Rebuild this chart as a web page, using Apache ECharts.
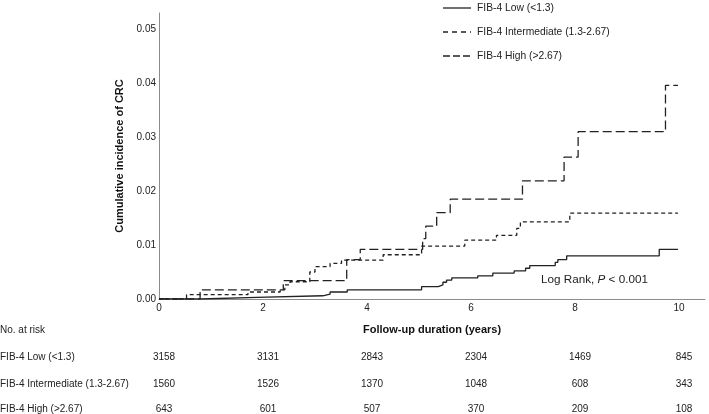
<!DOCTYPE html>
<html>
<head>
<meta charset="utf-8">
<script src="https://cdn.jsdelivr.net/npm/echarts@6/dist/echarts.min.js"></script>
<style>html,body{margin:0;padding:0;background:#fff}#c{width:709px;height:414px}</style>
</head>
<body>
<div id="c"></div>
<script>
// ---- data ----
const seriesNames = ['FIB-4 Low (<1.3)', 'FIB-4 Intermediate (1.3-2.67)', 'FIB-4 High (>2.67)'];
const lowT = [0, 0.79, 1.88, 3.15, 3.29, 3.62, 5.05, 5.37, 5.46, 5.53, 5.63, 6.13, 6.42, 6.83, 7.05, 7.13, 7.62, 7.67, 7.84, 9.62, 9.98];
const lowV = [0, 0.0003, 0.0006, 0.0009, 0.0013, 0.0017, 0.0023, 0.0026, 0.0031, 0.0035, 0.0039, 0.0043, 0.0048, 0.0052, 0.0057, 0.0062, 0.0068, 0.0073, 0.0080, 0.0092, 0.0092];
const midT = [0, 0.53, 1.71, 2.33, 2.42, 2.52, 2.90, 3.00, 3.29, 3.51, 4.31, 5.05, 5.88, 6.49, 6.88, 6.95, 7.90, 9.98];
const midV = [0, 0.0008, 0.0013, 0.0017, 0.0026, 0.0032, 0.0050, 0.0060, 0.0066, 0.0072, 0.0082, 0.0098, 0.0109, 0.0118, 0.0131, 0.0143, 0.0159, 0.0159];
const highT = [0, 0.79, 2.39, 3.61, 3.87, 5.07, 5.13, 5.34, 5.60, 6.99, 7.79, 8.06, 9.74, 9.98];
const highV = [0, 0.0017, 0.0034, 0.0073, 0.0092, 0.0112, 0.0135, 0.0160, 0.0185, 0.0219, 0.0263, 0.0310, 0.0396, 0.0396];
const riskTimes = [0, 2, 4, 6, 8, 10];
const riskLow = [3158, 3131, 2843, 2304, 1469, 845];
const riskMid = [1560, 1526, 1370, 1048, 608, 343];
const riskHigh = [643, 601, 507, 370, 209, 108];

const font = 'Arial, "Liberation Sans", sans-serif';
const pair = (t, v) => t.map((x, i) => [x, v[i]]);
const chart = echarts.init(document.getElementById('c'), null, {renderer: 'canvas'});
const lineColor = '#222';
const dashes = ['solid', [4, 3], [9, 4]];
const legendDashes = [null, [5, 4], [7, 3]];
chart.setOption({
  animation: false,
  textStyle: {fontFamily: font},
  grid: {left: 159, right: 4, top: 13, bottom: 115, containLabel: false},
  xAxis: {
    type: 'value', min: 0, max: 10.5, interval: 2,
    name: 'Follow-up duration (years)', nameLocation: 'middle', nameGap: 25,
    nameTextStyle: {fontSize: 11, fontWeight: 'bold', color: '#111', fontFamily: font},
    axisLine: {lineStyle: {color: '#8c8c8c', width: 1}},
    axisTick: {show: false}, splitLine: {show: false},
    axisLabel: {fontSize: 10, color: '#222', margin: 4,
      formatter: v => (Math.abs(v % 2) < 1e-9 ? String(v) : '')}
  },
  yAxis: {
    type: 'value', min: 0, max: 0.053, interval: 0.01,
    name: 'Cumulative incidence of CRC', nameLocation: 'middle', nameGap: 24, nameRotate: 90,
    nameTextStyle: {fontSize: 11, fontWeight: 'bold', color: '#111', fontFamily: font},
    axisLine: {show: true, lineStyle: {color: '#8c8c8c', width: 1}},
    axisTick: {show: false}, splitLine: {show: false},
    axisLabel: {fontSize: 10, color: '#222', margin: 3,
      formatter: v => { const k = Math.round(v * 100); return Math.abs(v * 100 - k) < 1e-6 ? (k / 100).toFixed(2) : ''; }}
  },
  series: [
    {name: seriesNames[0], type: 'line', step: 'end', symbol: 'none', data: pair(lowT, lowV),
     lineStyle: {color: lineColor, width: 1.3, type: dashes[0]}},
    {name: seriesNames[1], type: 'line', step: 'end', symbol: 'none', data: pair(midT, midV),
     lineStyle: {color: lineColor, width: 1.3, type: dashes[1]}},
    {name: seriesNames[2], type: 'line', step: 'end', symbol: 'none', data: pair(highT, highV),
     lineStyle: {color: lineColor, width: 1.3, type: dashes[2]}}
  ]
});

const elements = [];
const txt = (x, y, s, align, size) => ({type: 'text', x: x, y: y, silent: true,
  style: {text: s, fill: '#222', font: (size || 10) + 'px ' + font, textAlign: align || 'left', textVerticalAlign: 'middle'}});
// legend (drawn manually to keep dash patterns without symbols)
const legendY = [8, 32, 56];
seriesNames.forEach((n, i) => {
  elements.push({type: 'line', silent: true,
    shape: {x1: 443, y1: legendY[i], x2: 471, y2: legendY[i]},
    style: {stroke: lineColor, lineWidth: 1.3, lineDash: legendDashes[i]}});
  elements.push(txt(477, legendY[i], n, 'left', 10.3));
});
elements.push(txt(0, 330, 'No. at risk'));
const rows = [[seriesNames[0], riskLow, 357], [seriesNames[1], riskMid, 384], [seriesNames[2], riskHigh, 409]];
rows.forEach(r => {
  elements.push(txt(0, r[2], r[0]));
  r[1].forEach((n, i) => {
    const px = chart.convertToPixel({xAxisIndex: 0}, riskTimes[i]);
    elements.push(txt(px + 5, r[2], String(n), 'center'));
  });
});
elements.push({type: 'text', x: 541, y: 280, silent: true,
  style: {text: '{a|Log Rank, }{b|P}{a| < 0.001}', textVerticalAlign: 'middle',
    rich: {a: {font: '11.7px ' + font, fill: '#222'}, b: {font: 'italic 11.7px ' + font, fill: '#222'}}}});
chart.setOption({graphic: elements});
</script>
</body>
</html>
